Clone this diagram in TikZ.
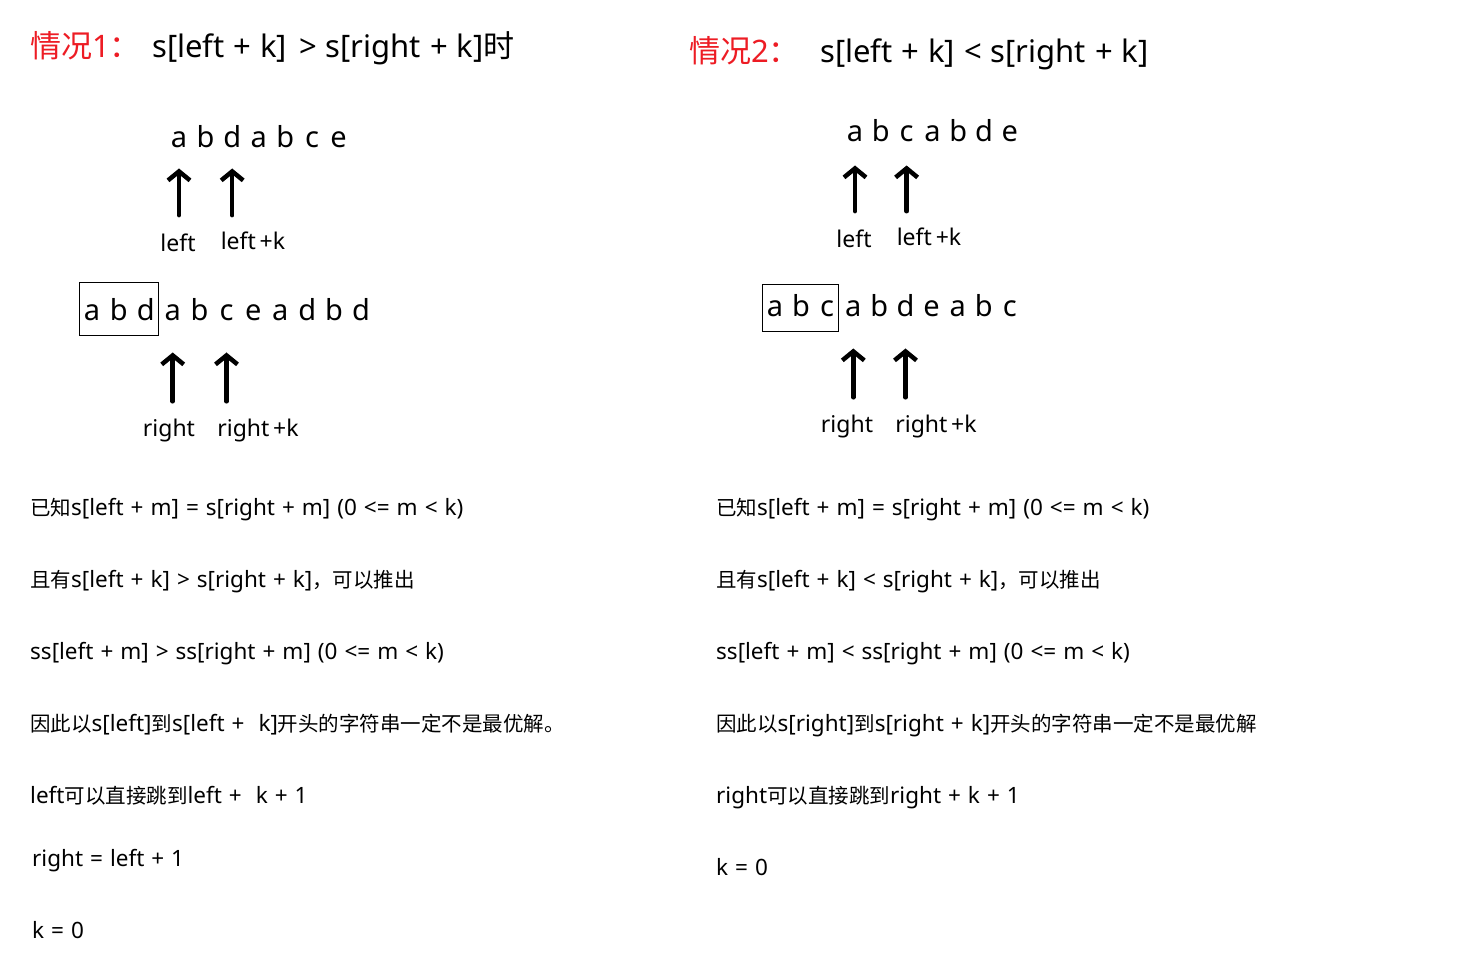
\documentclass[tikz,border=0pt]{standalone}
\usepackage{fontspec}
\setmainfont{Noto Sans}
\newfontfamily\cjk{Noto Sans CJK SC}
\newcommand\zh[1]{{\cjk\fontsize{20.5}{20.5}\selectfont #1}}
\newcommand\bodyfont{\fontsize{22.5}{22.5}\selectfont\spaceskip 7pt\relax}
\newcommand\ttlfont{\fontsize{31}{31}\selectfont\spaceskip 9pt\relax}
\usetikzlibrary{arrows.meta,fit}
\definecolor{casered}{RGB}{237,28,36}
\begin{document}
\begin{tikzpicture}[x=1pt, y=-1pt,
    arr/.style={-{Straight Barb[length=9pt,width=22pt]}, line width=4.5pt, line cap=round},
    letter/.style={inner sep=0pt, anchor=base, font=\fontsize{29}{29}\selectfont},
    lbl/.style={inner sep=0pt, anchor=base, font=\fontsize{23}{23}\selectfont},
    body/.style={inner sep=0pt, anchor=base west, font=\bodyfont},
    ttl/.style={inner sep=0pt, anchor=base west, font=\ttlfont},
    frame/.style={draw, line width=1pt, inner xsep=4pt, inner ysep=15pt}]
  \useasboundingbox (0,0) rectangle (1457,978);
  % Case 1: s[left + k] > s[right + k]
  \node[ttl, casered] (ha) at (30,57) {{\cjk 情况}1{\cjk ：}};
  \node[ttl] (hb) at (152,57) {s[left + k]\hspace{3pt} > s[right + k]{\cjk 时}};
  \foreach \c [count=\i from 0] in {a,b,d,a,b,c,e}
    \node[letter] (ua\i) at (179+26.6*\i,147) {\c};
  \node[lbl] (la0) at (178,251) {left};
  \node[lbl] (la1) at (253,249) {left\,+k};
  \draw[arr, shorten <=18pt, shorten >=21pt] (la0.north -| ua0) -- (ua0.south);
  \draw[arr, shorten <=16pt, shorten >=21pt] (la1.north -| ua2) -- (ua2.south);
  \foreach \c [count=\i from 0] in {a,b,d,a,b,c,e,a,d,b,d}
    \node[letter] (da\i) at (92+26.9*\i,320) {\c};
  \node[frame, fit=(da0)(da2)] (boxa) {};
  \node[lbl] (ra0) at (169,436) {right};
  \node[lbl] (ra1) at (258,436) {right\,+k};
  \draw[arr, shorten <=17pt, shorten >=32pt] (ra0.north -| da3) -- (da3.south);
  \draw[arr, shorten <=17pt, shorten >=32pt] (ra1.north -| da5) -- (da5.south);
  \node[body] (ta1) at (30,515) {\zh{已知}s[left + m] = s[right + m] (0 <= m < k)};
  \node[body] (ta2) at (30,587) {\zh{且有}s[left + k] > s[right + k]\zh{，可以推出}};
  \node[body] (ta3) at (30,659) {ss[left + m] > ss[right + m] (0 <= m < k)};
  \node[body] (ta4) at (30,731) {\zh{因此以}s[left]\zh{到}s[left +\ \ k]\zh{开头的字符串一定不是最优解。}};
  \node[body] (ta5) at (30,803) {left\zh{可以直接跳到}left +\ \ k + 1};
  \node[body] (ta6) at (32,866) {right = left + 1};
  \node[body] (ta7) at (32,938) {k = 0};
  % Case 2: s[left + k] < s[right + k]
  \node[ttl, casered] (hc) at (689,62) {{\cjk 情况}2{\cjk ：}};
  \node[ttl] (hd) at (820,62) {s[left + k] < s[right + k]};
  \foreach \c [count=\i from 0] in {a,b,c,a,b,d,e}
    \node[letter] (ub\i) at (855+25.8*\i,141) {\c};
  \node[lbl] (lb0) at (854,247) {left};
  \node[lbl] (lb1) at (929,245) {left\,+k};
  \draw[arr, shorten <=18pt, shorten >=24pt] (lb0.north -| ub0) -- (ub0.south);
  \draw[arr, shorten <=16pt, shorten >=24pt] (lb1.north -| ub2) -- (ub2.south);
  \foreach \c [count=\i from 0] in {a,b,c,a,b,d,e,a,b,c}
    \node[letter] (db\i) at (775+26.1*\i,316) {\c};
  \node[frame, fit=(db0)(db2)] (boxb) {};
  \node[lbl] (rb0) at (847,432) {right};
  \node[lbl] (rb1) at (936,432) {right\,+k};
  \draw[arr, shorten <=17pt, shorten >=32pt] (rb0.north -| db3) -- (db3.south);
  \draw[arr, shorten <=17pt, shorten >=32pt] (rb1.north -| db5) -- (db5.south);
  \node[body] (tb1) at (716,515) {\zh{已知}s[left + m] = s[right + m] (0 <= m < k)};
  \node[body] (tb2) at (716,587) {\zh{且有}s[left + k] < s[right + k]\zh{，可以推出}};
  \node[body] (tb3) at (716,659) {ss[left + m] < ss[right + m] (0 <= m < k)};
  \node[body] (tb4) at (716,731) {\zh{因此以}s[right]\zh{到}s[right + k]\zh{开头的字符串一定不是最优解}};
  \node[body] (tb5) at (716,803) {right\zh{可以直接跳到}right + k + 1};
  \node[body] (tb6) at (716,875) {k = 0};
\end{tikzpicture}
\end{document}
